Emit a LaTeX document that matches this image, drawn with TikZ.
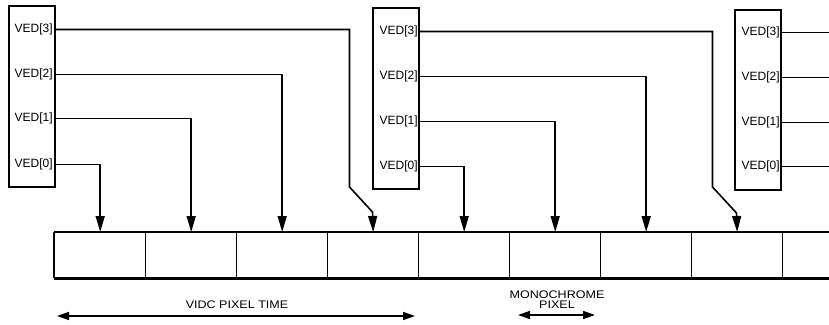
\documentclass[tikz,border=0pt]{standalone}
\usepackage{fontspec}
\setmainfont{Liberation Sans}
\usetikzlibrary{arrows.meta}
\newcommand{\widen}[1]{\scalebox{1.14}[1]{#1}}
\begin{document}
\begin{tikzpicture}[x=1pt,y=-1pt,
  vbox/.style={draw,line width=1.6pt,inner sep=0pt,anchor=north west,minimum width=46pt},
  lbl/.style={anchor=east,inner sep=1.2pt,font=\fontsize{12}{14}\selectfont},
  wire/.style={line width=1.6pt},
  feed/.style={line width=1.6pt,-{Triangle[length=16pt,width=9pt]}},
  cellbox/.style={draw,line width=1.4pt,minimum width=91pt,minimum height=45pt,inner sep=0pt,anchor=north west},
  rail/.style={line width=2.8pt},
  dimline/.style={line width=1.5pt,{Triangle[length=12pt,width=8pt]}-{Triangle[length=12pt,width=8pt]}},
  captxt/.style={inner sep=0pt,font=\fontsize{11}{10.5}\selectfont,align=center}
]
\useasboundingbox (0,0) rectangle (829,324);
\clip (0,0) rectangle (829,324);
\coordinate (edge) at (829,0);

% pixel bar
\foreach \i in {0,...,8} {
  \node[cellbox] (c\i) at ({54+91*\i},232) {};
}
\draw[rail] (c0.north west) -- (c0.north west -| edge);
\draw[rail] (c0.south west) -- (c0.south west -| edge);
\draw[rail] (c0.north west) -- (c0.south west);

% VIDC boxes
\node[vbox,minimum height=181pt] (b1) at (8,5) {};
\node[vbox,minimum height=181pt] (b2) at (372,7) {};
\node[vbox,minimum height=180pt] (b3) at (734,9) {};

\node[lbl] (b1l3) at (54,29.5) {VED[3]};
\node[lbl] (b1l2) at (54,74.5) {VED[2]};
\node[lbl] (b1l1) at (54,118.5) {VED[1]};
\node[lbl] (b1l0) at (54,164.5) {VED[0]};

\node[lbl] (b2l3) at (419,31.5) {VED[3]};
\node[lbl] (b2l2) at (419,76.5) {VED[2]};
\node[lbl] (b2l1) at (419,121.5) {VED[1]};
\node[lbl] (b2l0) at (419,166.5) {VED[0]};

\node[lbl] (b3l3) at (781,32.5) {VED[3]};
\node[lbl] (b3l2) at (781,77.5) {VED[2]};
\node[lbl] (b3l1) at (781,122.5) {VED[1]};
\node[lbl] (b3l0) at (781,166.5) {VED[0]};

% wires box 1
\draw[feed] (b1l0 -| b1.east) -| (c0.north);
\draw[feed] (b1l1 -| b1.east) -| (c1.north);
\draw[feed] (b1l2 -| b1.east) -| (c2.north);
\coordinate (k1a) at (349.5,187);
\coordinate (k1b) at (372.5,212);
\draw[feed] (b1l3 -| b1.east) -| (k1a) -- (k1b) -- (c3.north);

% wires box 2
\draw[feed] (b2l0 -| b2.east) -| (c4.north);
\draw[feed] (b2l1 -| b2.east) -| (c5.north);
\draw[feed] (b2l2 -| b2.east) -| (c6.north);
\coordinate (k2a) at (712.5,187);
\coordinate (k2b) at (736.5,213);
\draw[feed] (b2l3 -| b2.east) -| (k2a) -- (k2b) -- (c7.north);

% wires box 3
\foreach \k in {0,...,3} {
  \draw[wire] (b3l\k -| b3.east) -- (b3l\k -| edge);
}

% dimensions
\node[captxt] (vidc) at (237,305) {\widen{VIDC PIXEL TIME}};
\coordinate (va) at (57,316);
\coordinate (vb) at (415,316);
\draw[dimline] (va) -- (vb);

\node[captxt] (mono) at (557,299.5) {\widen{MONOCHROME}\\\widen{PIXEL}};
\coordinate (ma) at (518,315);
\coordinate (mb) at (595,315);
\draw[dimline] (ma) -- (mb);
\end{tikzpicture}
\end{document}
